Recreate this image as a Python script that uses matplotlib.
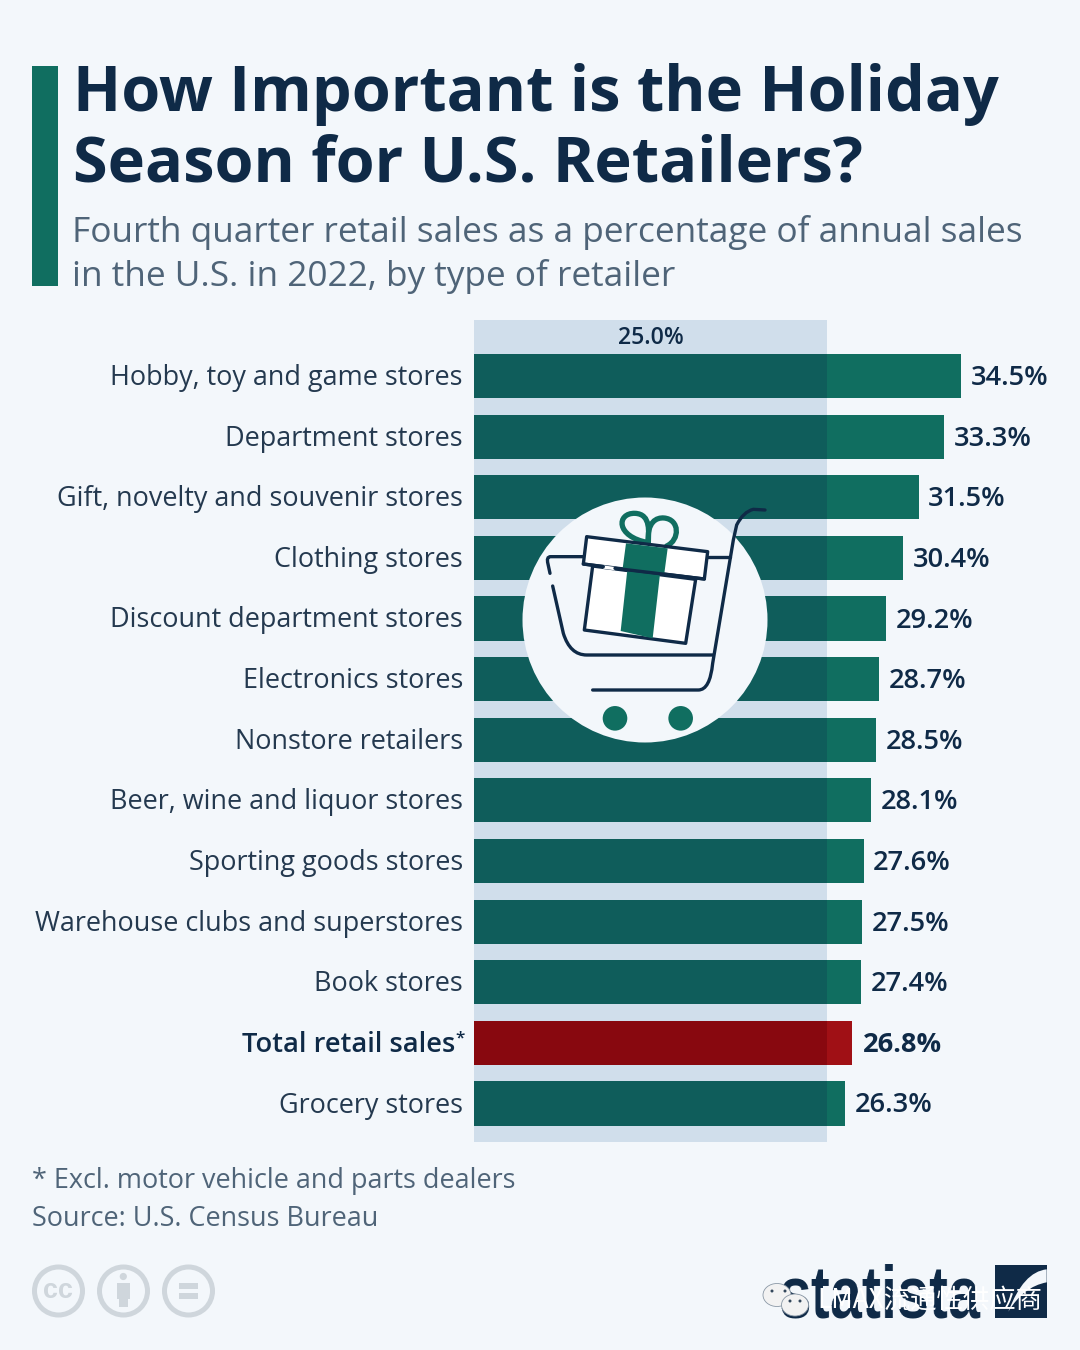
import matplotlib
matplotlib.use('Agg')
import matplotlib.pyplot as plt
import numpy as np
from matplotlib.patches import Circle, Polygon, Rectangle, Ellipse, PathPatch
from matplotlib.path import Path

plt.rcParams['font.family'] = ['Open Sans', 'DejaVu Sans']

categories = ['Hobby, toy and game stores', 'Department stores', 'Gift, novelty and souvenir stores',
              'Clothing stores', 'Discount department stores', 'Electronics stores', 'Nonstore retailers',
              'Beer, wine and liquor stores', 'Sporting goods stores', 'Warehouse clubs and superstores',
              'Book stores', 'Total retail sales', 'Grocery stores']
values = [34.5, 33.3, 31.5, 30.4, 29.2, 28.7, 28.5, 28.1, 27.6, 27.5, 27.4, 26.8, 26.3]
highlight = 'Total retail sales'
benchmark = 25.0

BG = '#f3f7fb'
NAVY = '#0f2a47'
GREY = '#4f6478'
BAND = '#d0deeb'
GREEN = '#106e60'
GREEN_DARK = '#0f5d5b'
RED = '#a01015'
RED_DARK = '#88080f'
LABEL = '#24394f'
BADGE = '#cfd6dc'

fig = plt.figure(figsize=(10.8, 13.5), dpi=100, facecolor=BG)


def px_size(px):
    return px * 0.72


# bars, axes box is in pixels: x 474-1080, y 320-1142
ax = fig.add_axes([474 / 1080, 1 - 1142 / 1350, 606 / 1080, 822 / 1350])
ax.set_facecolor('none')
ax.set_xlim(0, 606 / 14.12)
ax.set_ylim(12 + 38.5 / 60.625, -56 / 60.625)
ax.axis('off')
ax.axvspan(0, benchmark, color=BAND, lw=0, zorder=0)

for i, (cat, val) in enumerate(zip(categories, values)):
    is_total = cat == highlight
    ax.barh(i, benchmark, height=0.726, color=RED_DARK if is_total else GREEN_DARK, zorder=2)
    ax.barh(i, val - benchmark, left=benchmark, height=0.726, color=RED if is_total else GREEN, zorder=2)
    ax.annotate(f'{val}%', (val, i), xytext=(11 if is_total else 9.5, -2), textcoords='offset pixels', va='center',
                ha='left', fontsize=px_size(27.3), fontweight='bold' if is_total else 'semibold', color=NAVY,
                zorder=3)
    ax.annotate(cat, (0, i), xytext=(-19 if is_total else -11, -2), textcoords='offset pixels', va='center',
                ha='right', fontsize=px_size(27.3 if is_total else 27.05), color=NAVY if is_total else LABEL,
                fontweight='semibold' if is_total else 'normal', annotation_clip=False)

ax.annotate(f'{benchmark}%', (benchmark / 2, -0.66), xytext=(0, -2), textcoords='offset pixels', ha='center',
            va='center', fontsize=px_size(23), fontweight='semibold', color=NAVY)

# everything else is placed in pixel coordinates
ov = fig.add_axes([0, 0, 1, 1], zorder=5)
ov.set_facecolor('none')
ov.set_xlim(0, 1080)
ov.set_ylim(1350, 0)
ov.axis('off')

ov.add_patch(Rectangle((32, 66), 26, 220, color=GREEN, lw=0))
ov.text(73, 94.5, 'How Important is the Holiday', fontsize=px_size(63), fontweight='bold', color=NAVY, va='center')
ov.text(73, 164.5, 'Season for U.S. Retailers?', fontsize=px_size(63), fontweight='bold', color=NAVY, va='center')
ov.text(72, 233, 'Fourth quarter retail sales as a percentage of annual sales', fontsize=px_size(35.3),
        color=GREY, va='center')
ov.text(72, 276, 'in the U.S. in 2022, by type of retailer', fontsize=px_size(35.3), color=GREY, va='center')

ov.text(455.5, 1038, '*', fontsize=px_size(17), color=NAVY, va='center', fontweight='semibold')

ov.text(32, 1181, '* Excl. motor vehicle and parts dealers', fontsize=px_size(27), color=GREY, va='center')
ov.text(32, 1219, 'Source: U.S. Census Bureau', fontsize=px_size(27), color=GREY, va='center')


def z(*pts):
    return [(520 + x / 3, 490 + y / 3) for x, y in pts]


def line(pts, color=NAVY, lw=2.4, zorder=7):
    ov.plot(*zip(*z(*pts)), color=color, lw=lw, solid_capstyle='round', solid_joinstyle='round', zorder=zorder)


def curve(pts, codes, ec=NAVY, lw=2.4):
    ov.add_patch(PathPatch(Path(z(*pts), codes), fc='none', ec=ec, lw=lw, capstyle='round', zorder=7))


ov.add_patch(Circle((645, 620), 122.5, color=BG, lw=0, zorder=6))
M, L, C, C4 = Path.MOVETO, Path.LINETO, Path.CURVE3, Path.CURVE4
# cart frame
curve([(735, 60), (700, 58), (670, 65), (650, 105), (640, 150), (578, 520), (570, 600), (535, 600), (218, 600)],
      [M, L, C, C, L, L, C, C, L])
curve([(578, 495), (200, 495), (150, 495), (130, 430), (98, 288)], [M, L, C, C, L])
curve([(190, 200), (92, 200), (78, 200), (84, 222), (90, 250)], [M, L, C, C, L])
line([(563, 200), (630, 200)])
# bow loops
curve([(385, 158), (285, 140), (290, 68), (345, 70), (395, 72), (385, 130), (385, 158)],
      [M, C4, C4, C4, C4, C4, C4], ec=GREEN, lw=3.8)
curve([(385, 158), (380, 95), (410, 82), (432, 84), (480, 88), (480, 150), (440, 168)],
      [M, C4, C4, C4, C4, C4, C4], ec=GREEN, lw=3.8)
# gift box
ov.add_patch(Polygon(z((218, 228), (527, 268), (497, 460), (193, 420)), fc='white', ec=NAVY, lw=2.4,
                     joinstyle='round', zorder=8))
ov.add_patch(Polygon(z((322, 240), (420, 252), (398, 445), (302, 423)), fc=GREEN, lw=0, zorder=9))
ov.add_patch(Polygon(z((200, 140), (563, 185), (553, 267), (190, 222)), fc='white', ec=NAVY, lw=2.4,
                     joinstyle='round', zorder=9))
ov.add_patch(Polygon(z((318, 160), (443, 175), (433, 250), (308, 235)), fc=GREEN, lw=0, zorder=10))
ov.add_patch(Polygon(z((250, 226), (285, 231), (285, 241), (250, 236)), fc='white', lw=0, zorder=11))
line([(190, 222), (250, 230)], zorder=12)
line([(285, 235), (553, 267)], zorder=12)
# wheels
for cx in (285, 482):
    ov.add_patch(Circle(z((cx, 685))[0], 12.3, color=GREEN, lw=0, zorder=7))

# licence badges
for cx in (58.5, 123.5, 188.5):
    ov.add_patch(Circle((cx, 1291), 24, fc='none', ec=BADGE, lw=3.6))
ov.text(58.5, 1291, 'cc', fontsize=px_size(27), fontweight='bold', color=BADGE, ha='center', va='center',
        family='Liberation Sans')
ov.add_patch(Circle((123.3, 1276.5), 3.6, color=BADGE, lw=0))
ov.add_patch(Rectangle((117, 1283), 13, 16, color=BADGE, lw=0))
ov.add_patch(Rectangle((119, 1299), 8.5, 8, color=BADGE, lw=0))
ov.add_patch(Rectangle((179, 1283), 19, 6, color=BADGE, lw=0))
ov.add_patch(Rectangle((179, 1293), 19, 6, color=BADGE, lw=0))


# the logo wordmark is narrower than any installed font, so squeeze the drawn text sideways
def squeeze(img, dpi, k=0.78):
    h, w = img.shape[:2]
    new_w = max(int(round(w * k)), 1)
    xs = np.linspace(0, w - 1, new_w)
    out = np.zeros((h, new_w, img.shape[2]), dtype=img.dtype)
    for c in range(img.shape[2]):
        for r in range(h):
            out[r, :, c] = np.interp(xs, np.arange(w), img[r, :, c])
    return out, 0, 0


logo = ov.text(778, 1317, 'statista', fontsize=px_size(74), fontweight='bold', color=NAVY, ha='left',
               va='baseline', family='Liberation Sans')
logo.set_agg_filter(squeeze)
ov.add_patch(Rectangle((995, 1265), 52, 53, color=NAVY, lw=0))
swoosh = [(760 + x / 3, 1250 + y / 3) for x, y in
          [(860, 58), (790, 65), (745, 185), (790, 110), (860, 97), (860, 58)]]
ov.add_patch(PathPatch(Path(swoosh, [M, C, C, C, C, L]), fc=BG, lw=0))

# watermark
for cx, cy, w, h in [(777, 1295, 28, 23), (795, 1305, 27, 22)]:
    ov.add_patch(Ellipse((cx, cy), w, h, fc='#f2f2f2', ec='#8a98a6', lw=0.6, zorder=4))
for cx, cy in [(772, 1291), (785, 1291), (790, 1301), (800, 1301)]:
    ov.add_patch(Circle((cx, cy), 1.5, color='#33475b', lw=0, zorder=4.5))
ov.text(817, 1300, 'LMAX流通性供应商', fontsize=px_size(26.4), color='white', va='center', zorder=5,
        family=['Noto Sans CJK SC', 'DejaVu Sans'])

fig.savefig('out.png', dpi=100, facecolor=BG)
